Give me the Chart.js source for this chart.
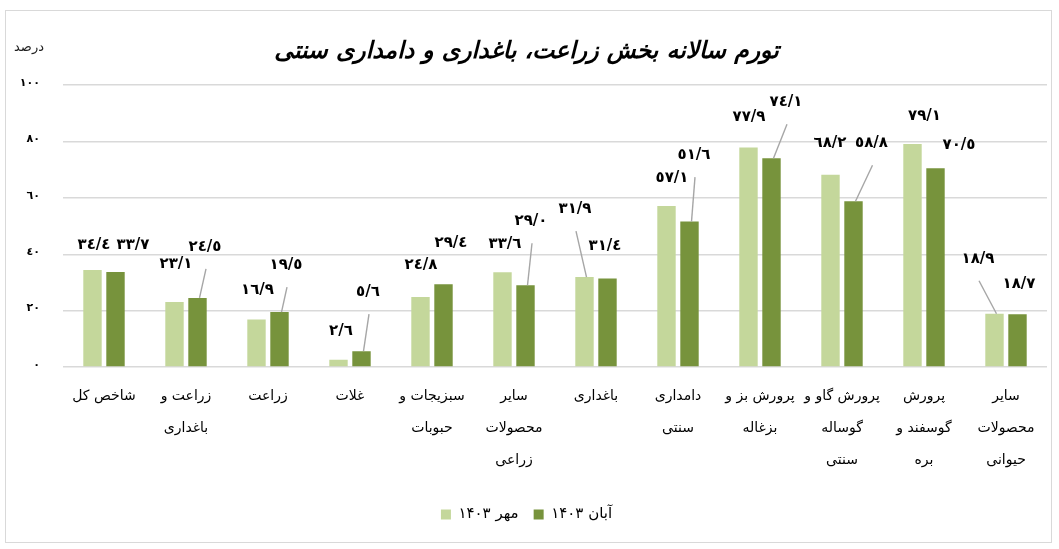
<!DOCTYPE html>
<html>
<head>
<meta charset="utf-8">
<script src="https://cdn.jsdelivr.net/npm/chart.js@4.4.1/dist/chart.umd.min.js"></script>
<style>
  html, body { margin: 0; padding: 0; background: #fff; }
  #box { position: absolute; left: 5px; top: 10px; width: 1045px; height: 531px; border: 1px solid #d9d9d9; }
  canvas { display: block; }
</style>
</head>
<body>
<div id="box"><canvas id="chart" width="1045" height="531"></canvas></div>
<script>
// دسته‌ها و داده‌ها
const categories = [
  ['شاخص کل'], ['زراعت و', 'باغداری'], ['زراعت'], ['غلات'], ['سبزیجات و', 'حبوبات'],
  ['سایر', 'محصولات', 'زراعی'], ['باغداری'], ['دامداری', 'سنتی'], ['پرورش بز و', 'بزغاله'],
  ['پرورش گاو و', 'گوساله', 'سنتی'], ['پرورش', 'گوسفند و', 'بره'], ['سایر', 'محصولات', 'حیوانی']
];
const mehr1403 = [34.4, 23.1, 16.9, 2.6, 24.8, 33.6, 31.9, 57.1, 77.9, 68.2, 79.1, 18.9];
const aban1403 = [33.7, 24.5, 19.5, 5.6, 29.4, 29.0, 31.4, 51.6, 74.1, 58.8, 70.5, 18.7];
const seriesNames = ['مهر ۱۴۰۳', 'آبان ۱۴۰۳'];
const chartTitle = 'تورم سالانه بخش زراعت، باغداری و دامداری سنتی';
const unitLabel = 'درصد';

// جابجایی برچسب‌ها نسبت به بالای هر ستون (پیکسل)
const labelShift = [
  [[1.5,-25],[1.5,-38],[1,-29],[2.5,-29],[0.5,-32],[2.5,-28],[-9.5,-68],[5.5,-28],[0.5,-30],[-0.5,-32],[12,-28],[-16.5,-55]],
  [[17.5,-27],[7.5,-51],[6.5,-47],[6.5,-59],[7.5,-41],[5.5,-64],[-2.5,-32.5],[4.5,-66.5],[14.5,-56],[18,-58],[23.5,-23.5],[1.5,-30.5]]
];
const leaders = [[6, 11], [1, 2, 3, 5, 7, 8, 9]];

const arDigits = '٠١٢٣٤٥٦٧٨٩';
const toAr = s => String(s).replace(/[0-9]/g, d => arDigits[d]);
const fmt = v => toAr(v.toFixed(1).replace('.', '/'));

const barLabels = {
  id: 'barLabels',
  afterDatasetsDraw(chart) {
    const ctx = chart.ctx;
    ctx.save();
    ctx.font = 'bold 15px "DejaVu Sans"';
    ctx.fillStyle = '#000';
    ctx.textAlign = 'center';
    ctx.textBaseline = 'middle';
    chart.data.datasets.forEach((ds, di) => {
      chart.getDatasetMeta(di).data.forEach((bar, i) => {
        const [dx, dy] = labelShift[di][i];
        const lx = bar.x + dx, ly = bar.y + dy;
        if (leaders[di].includes(i)) {
          ctx.strokeStyle = '#a6a6a6';
          ctx.lineWidth = 1.4;
          ctx.beginPath();
          ctx.moveTo(lx + 1, ly + 22);
          ctx.lineTo(bar.x + 2, bar.y);
          ctx.stroke();
        }
        ctx.fillText(fmt(ds.data[i]), lx, ly);
      });
    });
    ctx.restore();
  }
};

const unitText = {
  id: 'unitText',
  afterDraw(chart) {
    const ctx = chart.ctx;
    ctx.save();
    ctx.font = '13px "DejaVu Sans"';
    ctx.fillStyle = '#222';
    ctx.textAlign = 'center';
    ctx.textBaseline = 'middle';
    ctx.fillText(unitLabel, 23, 37);
    ctx.restore();
  }
};

new Chart(document.getElementById('chart'), {
  type: 'bar',
  data: {
    labels: categories,
    datasets: [
      { label: seriesNames[0], data: mehr1403, backgroundColor: '#c4d79b' },
      { label: seriesNames[1], data: aban1403, backgroundColor: '#77933c' }
    ]
  },
  options: {
    responsive: false,
    animation: false,
    categoryPercentage: 0.561,
    barPercentage: 0.8,
    layout: { padding: { left: 0, right: 4, top: 0, bottom: 10 } },
    scales: {
      x: {
        grid: { display: false, drawTicks: false },
        border: { display: false },
        ticks: {
          color: '#000',
          font: { family: 'DejaVu Sans', size: 14, lineHeight: 2.3 },
          padding: 13,
          maxRotation: 0,
          autoSkip: false
        },
        afterFit: s => { s.height = 125; }
      },
      y: {
        min: 0, max: 100,
        grid: { color: '#d9d9d9', lineWidth: 1.5, drawTicks: false },
        border: { display: false },
        ticks: {
          stepSize: 20,
          color: '#000',
          font: { family: 'DejaVu Sans', size: 11, weight: 'bold' },
          padding: 23,
          labelOffset: -2,
          callback: v => toAr(v)
        },
        afterFit: s => { s.width = 57; }
      }
    },
    plugins: {
      title: {
        display: true,
        text: chartTitle,
        color: '#000',
        font: { family: 'DejaVu Sans', size: 23.5, weight: 'bold', style: 'italic', lineHeight: 1.2 },
        padding: { top: 27, bottom: 19 }
      },
      legend: {
        position: 'bottom',
        labels: {
          boxWidth: 10, boxHeight: 10, padding: 15,
          color: '#000',
          font: { family: 'DejaVu Sans', size: 15 }
        }
      },
      tooltip: { enabled: false }
    }
  },
  plugins: [barLabels, unitText]
});
</script>
</body>
</html>
